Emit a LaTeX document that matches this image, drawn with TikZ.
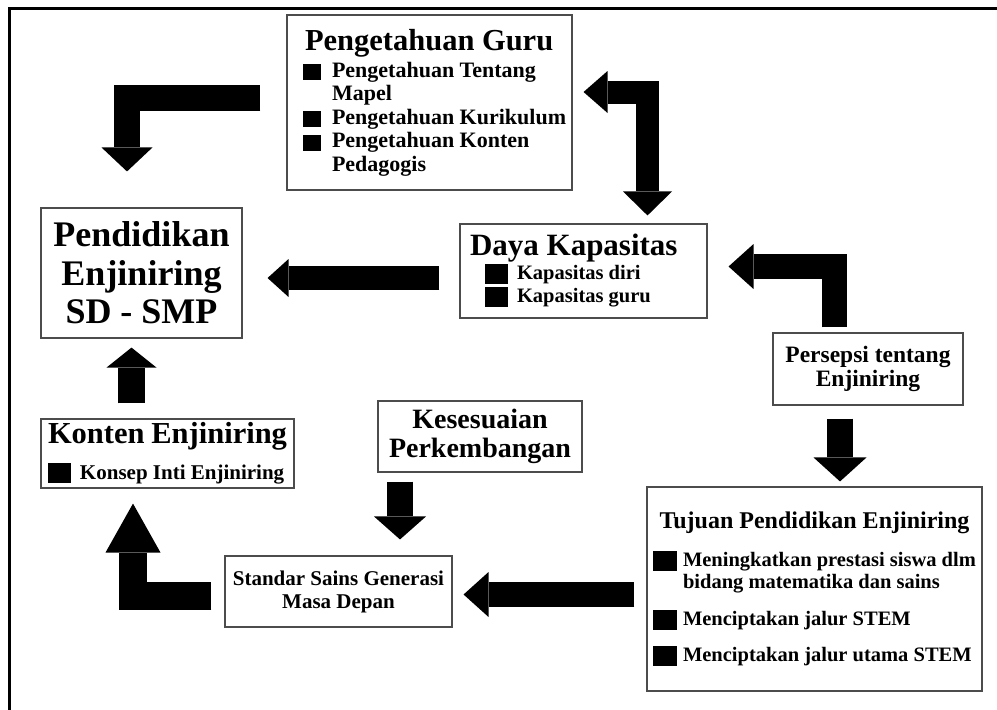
\documentclass[tikz,border=0pt]{standalone}
\usepackage{fontspec}
\setmainfont{Liberation Serif}
\usetikzlibrary{arrows.meta}

\newcommand{\blt}[3]{\rule[-#3]{#1}{#2}} % square bullet: width, height, drop below baseline

\tikzset{
    box/.style={draw=black!70, line width=1.1pt, fill=white, inner sep=0pt, font=\bfseries}, % framed text boxes
    blk/.style={line width=#1, line join=miter}, % shaft of the fat arrows
    tip/.style 2 args={-{Triangle[width=#1, length=#2, line width=0pt]}}, % filled head
}

\begin{document}
\begin{tikzpicture}[x=1pt, y=-1pt]
\useasboundingbox (0,0) rectangle (997,710);
\draw[line width=3pt] (9,710) -- (9,8) -- (997,8);

% boxes
\node[box, minimum width=201pt, minimum height=130pt] (pend) at (141.5,273) {\parbox{195pt}{\centering
    \fontsize{36}{38.5}\selectfont Pendidikan\\Enjiniring\\SD - SMP}};
\node[box, minimum width=285pt, minimum height=175pt] (guru) at (429.5,102.5) {\parbox{253pt}{%
    \fontsize{30.5}{30.5}\selectfont\hspace*{2pt}Pengetahuan Guru\par
    \fontsize{22}{23.5}\selectfont\vspace{3.5pt}%
    \mbox{\blt{18pt}{16pt}{3pt}\hspace{11pt}Pengetahuan Tentang}\par
    \hspace*{29pt}Mapel\par
    \mbox{\blt{18pt}{16pt}{3pt}\hspace{11pt}Pengetahuan Kurikulum}\par
    \mbox{\blt{18pt}{16pt}{3pt}\hspace{11pt}Pengetahuan Konten}\par
    \hspace*{29pt}Pedagogis}};
\node[box, minimum width=247pt, minimum height=94pt] (daya) at (583.5,271) {\parbox{197pt}{%
    \fontsize{31}{31}\selectfont\hspace*{-15pt}Daya Kapasitas\par
    \fontsize{20.5}{23}\selectfont\vspace{1pt}%
    \mbox{\blt{23pt}{20pt}{4pt}\hspace{9pt}Kapasitas diri}\par
    \mbox{\blt{23pt}{20pt}{4pt}\hspace{9pt}Kapasitas guru}}};
\node[box, minimum width=190pt, minimum height=72pt] (pers) at (868,369) {\parbox{180pt}{\centering
    \fontsize{23.5}{24}\selectfont Persepsi tentang\\Enjiniring}};
\node[box, minimum width=335pt, minimum height=204pt] (tuj) at (814.5,589) {\parbox{323pt}{%
    {\centering\fontsize{24}{24}\selectfont Tujuan Pendidikan Enjiniring\par}
    \fontsize{20.5}{22}\selectfont\vspace{16pt}%
    \mbox{\blt{24pt}{20pt}{5pt}\hspace{6pt}Meningkatkan prestasi siswa dlm}\par
    \hspace*{30pt}bidang matematika dan sains\par
    \vspace{15pt}%
    \mbox{\blt{24pt}{20pt}{5pt}\hspace{6pt}Menciptakan jalur STEM}\par
    \vspace{14pt}%
    \mbox{\blt{24pt}{20pt}{5pt}\hspace{6pt}Menciptakan jalur utama STEM}}};
\node[box, minimum width=204pt, minimum height=71pt] (kes) at (480,436.5) {\parbox{200pt}{\centering
    \fontsize{28}{29}\selectfont Kesesuaian\\Perkembangan}};
\node[box, minimum width=227pt, minimum height=71pt] (std) at (338.5,591.5) {\parbox{220pt}{\centering
    \fontsize{21}{23}\selectfont Standar Sains Generasi\\Masa Depan}};
\node[box, minimum width=253pt, minimum height=69pt] (kon) at (167.5,453.5) {\parbox{239pt}{%
    \fontsize{30.5}{30.5}\selectfont Konten Enjiniring\par
    \fontsize{21}{21}\selectfont\vspace{11pt}%
    \mbox{\blt{23pt}{20pt}{3pt}\hspace{9pt}Konsep Inti Enjiniring}}};

% ends of the straight arrows
\coordinate (d3) at ([yshift=-7pt]daya.west);
\coordinate (p5) at ([xshift=-28pt]pers.south);
\coordinate (t6) at ([yshift=-5.5pt]tuj.west);
\coordinate (k7) at ([xshift=-80pt]kes.south);
\coordinate (c9) at ([xshift=-36pt]kon.north);

% fat arrows
\draw[blk=26pt, tip={51pt}{24pt}, shorten <=26pt, shorten >=36pt]
    ([yshift=4.5pt]guru.west) -| ([xshift=-14.5pt]pend.north);
\draw[blk=23pt, {Triangle[width=42pt, length=24pt, line width=0pt]}-{Triangle[width=49pt, length=24pt, line width=0pt]},
    shorten <=11pt, shorten >=8pt]
    ([yshift=10.5pt]guru.east) -| ([xshift=64pt]daya.north);
\draw[blk=24pt, tip={38pt}{21pt}, shorten <=20pt, shorten >=25pt] (d3) -- (d3 -| pend.east);
\draw[blk=25pt, tip={45pt}{25pt}, shorten <=5pt, shorten >=21pt]
    ([xshift=-33.5pt]pers.north) |- ([yshift=4.5pt]daya.east);
\draw[blk=26pt, tip={53pt}{24pt}, shorten <=13pt, shorten >=5pt] (p5) -- (p5 |- tuj.north);
\draw[blk=25pt, tip={45pt}{25pt}, shorten <=12pt, shorten >=11pt] (t6) -- (t6 -| std.east);
\draw[blk=26pt, tip={52pt}{23pt}, shorten <=9pt, shorten >=16pt] (k7) -- (k7 |- std.north);
\draw[blk=28pt, tip={55pt}{49pt}, shorten <=13pt, shorten >=15pt]
    ([yshift=-4pt]std.west) -| ([xshift=-34.5pt]kon.south);
\draw[blk=27pt, tip={50pt}{20pt}, shorten <=15pt, shorten >=9pt] (c9) -- (c9 |- pend.south);
\end{tikzpicture}
\end{document}
